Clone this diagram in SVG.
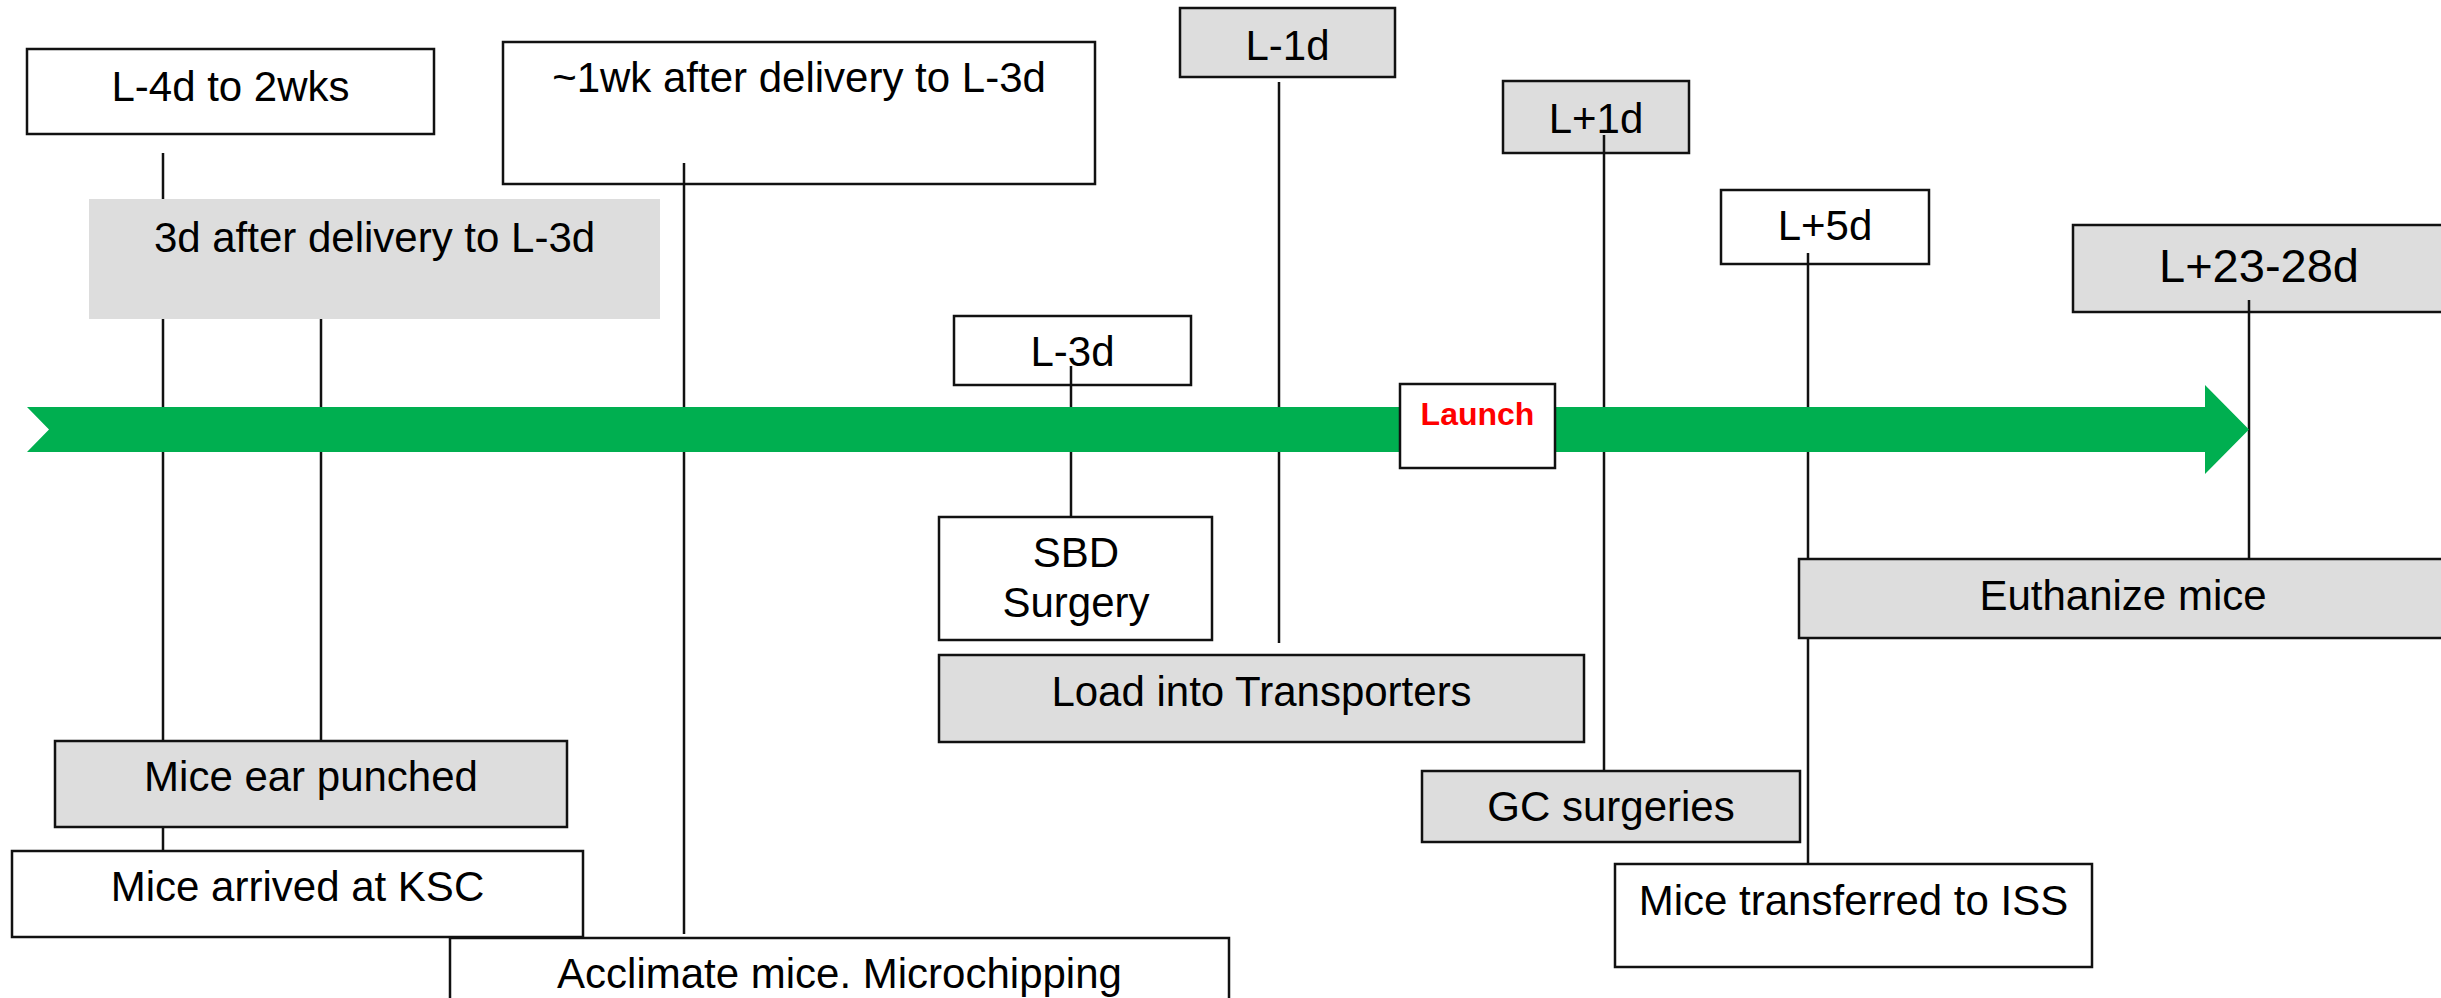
<svg xmlns="http://www.w3.org/2000/svg" width="2441" height="998" viewBox="0 0 2441 998">
<style>
.bw{fill:#ffffff;stroke:#111111;stroke-width:2.5}
.bg{fill:#dddddd;stroke:#111111;stroke-width:2.5}
.t{font-family:"Liberation Sans",Arial,sans-serif;font-size:42px;fill:#000000;text-anchor:middle}
.c{stroke:#111111;stroke-width:2.5;fill:none}
</style>
<rect width="2441" height="998" fill="#ffffff"/>
<g id="n_l4d"><rect class="bw" x="27" y="49" width="407" height="85"/><text class="t" x="230.5" y="101">L-4d to 2wks</text></g>
<g id="n_1wk"><rect class="bw" x="503" y="42" width="592" height="142"/><text class="t" x="799" y="92">~1wk after delivery to L-3d</text></g>
<g id="n_l1d"><rect class="bg" x="1180" y="8" width="215" height="69"/><text class="t" x="1287.5" y="60">L-1d</text></g>
<g id="n_lp1d"><rect class="bg" x="1503" y="81" width="186" height="72"/><text class="t" x="1596" y="133">L+1d</text></g>
<g id="n_lp5d"><rect class="bw" x="1721" y="190" width="208" height="74"/><text class="t" x="1825" y="240">L+5d</text></g>
<g id="n_lp23"><rect class="bg" x="2073" y="225" width="374" height="87"/><text class="t" x="2259" y="282" style="font-size:47px">L+23-28d</text></g>
<g id="n_l3d"><rect class="bw" x="954" y="316" width="237" height="69"/><text class="t" x="1072.5" y="366">L-3d</text></g>
<g id="connectors">
<line class="c" x1="163" y1="153" x2="163" y2="851"/>
<line class="c" x1="321" y1="300" x2="321" y2="741"/>
<line class="c" x1="684" y1="163" x2="684" y2="934"/>
<line class="c" x1="1071" y1="366" x2="1071" y2="517"/>
<line class="c" x1="1279" y1="82" x2="1279" y2="643"/>
<line class="c" x1="1604" y1="135" x2="1604" y2="771"/>
<line class="c" x1="1808" y1="253" x2="1808" y2="864"/>
<line class="c" x1="2249" y1="300" x2="2249" y2="559"/>
</g>
<g id="timeline"><polygon fill="#00af50" points="27,407 2205,407 2205,385 2249,429.5 2205,474 2205,452 27,452 49,429.5"/></g>
<g id="n_3dafter"><rect x="89" y="199" width="571" height="120" fill="#dddddd"/><text class="t" x="374.5" y="252">3d after delivery to L-3d</text></g>
<g id="n_launch"><rect class="bw" x="1400" y="384" width="155" height="84"/><text x="1477.5" y="425" style="font-family:'Liberation Sans',Arial,sans-serif;font-size:32px;font-weight:bold;fill:#ff0000;text-anchor:middle">Launch</text></g>
<g id="n_sbd"><rect class="bw" x="939" y="517" width="273" height="123"/><text class="t" x="1076" y="567">SBD</text><text class="t" x="1076" y="617">Surgery</text></g>
<g id="n_load"><rect class="bg" x="939" y="655" width="645" height="87"/><text class="t" x="1261.5" y="706">Load into Transporters</text></g>
<g id="n_gc"><rect class="bg" x="1422" y="771" width="378" height="71"/><text class="t" x="1611" y="821">GC surgeries</text></g>
<g id="n_euth"><rect class="bg" x="1799" y="559" width="650" height="79"/><text class="t" x="2123" y="610">Euthanize mice</text></g>
<g id="n_ear"><rect class="bg" x="55" y="741" width="512" height="86"/><text class="t" x="311" y="791">Mice ear punched</text></g>
<g id="n_arrived"><rect class="bw" x="12" y="851" width="571" height="86"/><text class="t" x="297.5" y="901">Mice arrived at KSC</text></g>
<g id="n_accl"><rect class="bw" x="450" y="938" width="779" height="80"/><text class="t" x="839.5" y="988">Acclimate mice. Microchipping</text></g>
<g id="n_iss"><rect class="bw" x="1615" y="864" width="477" height="103"/><text class="t" x="1853.5" y="915">Mice transferred to ISS</text></g>
</svg>
